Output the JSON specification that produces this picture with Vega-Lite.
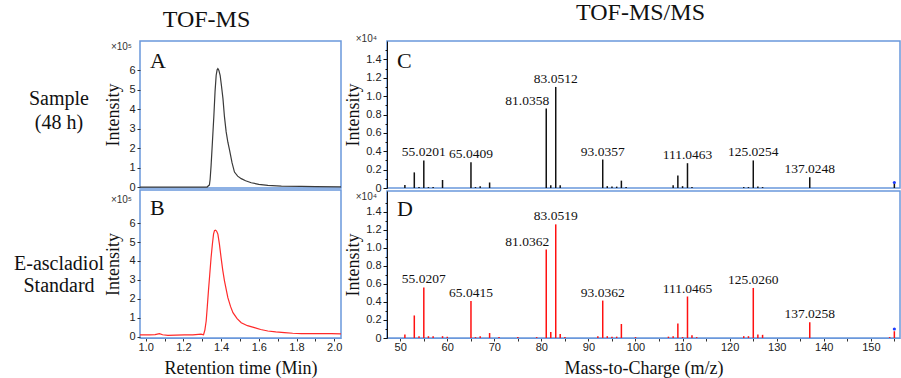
{
  "$schema": "https://vega.github.io/schema/vega-lite/v6.json",
  "padding": {"left": 13, "top": 0, "right": 0, "bottom": 0},
  "background": "white",
  "config": {
    "view": {"stroke": "#6a98dc", "strokeWidth": 1.5},
    "axis": {"labelFont": "Liberation Sans", "labelFontSize": 11, "labelColor": "#222", "titleFont": "Liberation Serif", "titleFontSize": 18, "titleFontWeight": "normal", "titleColor": "#111", "grid": false, "tickColor": "#333", "tickSize": 3, "labelPadding": 2, "domainColor": "#6a98dc", "labelOverlap": false},
    "title": {"font": "Liberation Serif", "fontSize": 24, "fontWeight": "normal", "color": "#111"},
    "text": {"font": "Liberation Serif", "color": "#111"}
  },
  "datasets": {
    "chromA": [{"t":0.97,"i":0.0},{"t":1.1,"i":0.0},{"t":1.2,"i":0.0},{"t":1.3,"i":0.0},{"t":1.326,"i":0.0},{"t":1.334,"i":0.08},{"t":1.338,"i":0.1},{"t":1.342,"i":0.4},{"t":1.347,"i":1.1},{"t":1.354,"i":2.3},{"t":1.362,"i":3.7},{"t":1.368,"i":4.9},{"t":1.374,"i":5.74},{"t":1.379,"i":6.02},{"t":1.383,"i":6.08},{"t":1.388,"i":6.0},{"t":1.395,"i":5.74},{"t":1.402,"i":5.2},{"t":1.41,"i":4.54},{"t":1.418,"i":3.6},{"t":1.427,"i":2.83},{"t":1.436,"i":2.3},{"t":1.445,"i":1.89},{"t":1.458,"i":1.25},{"t":1.471,"i":0.77},{"t":1.488,"i":0.56},{"t":1.507,"i":0.43},{"t":1.53,"i":0.32},{"t":1.56,"i":0.22},{"t":1.6,"i":0.14},{"t":1.648,"i":0.08},{"t":1.72,"i":0.05},{"t":1.825,"i":0.03},{"t":1.9,"i":0.02},{"t":2.036,"i":0.01}],
    "chromB": [{"t":0.97,"i":0.09},{"t":1.02,"i":0.09},{"t":1.05,"i":0.11},{"t":1.073,"i":0.16},{"t":1.09,"i":0.1},{"t":1.118,"i":0.07},{"t":1.16,"i":0.08},{"t":1.206,"i":0.09},{"t":1.25,"i":0.1},{"t":1.294,"i":0.13},{"t":1.307,"i":0.1},{"t":1.314,"i":0.35},{"t":1.321,"i":0.83},{"t":1.327,"i":1.6},{"t":1.333,"i":2.42},{"t":1.34,"i":3.3},{"t":1.347,"i":4.18},{"t":1.354,"i":4.9},{"t":1.36,"i":5.42},{"t":1.365,"i":5.6},{"t":1.37,"i":5.63},{"t":1.376,"i":5.58},{"t":1.383,"i":5.42},{"t":1.391,"i":4.9},{"t":1.4,"i":4.18},{"t":1.409,"i":3.5},{"t":1.418,"i":2.95},{"t":1.436,"i":2.06},{"t":1.45,"i":1.6},{"t":1.463,"i":1.27},{"t":1.485,"i":0.95},{"t":1.507,"i":0.74},{"t":1.54,"i":0.58},{"t":1.577,"i":0.48},{"t":1.61,"i":0.38},{"t":1.648,"i":0.3},{"t":1.69,"i":0.25},{"t":1.736,"i":0.21},{"t":1.78,"i":0.18},{"t":1.825,"i":0.16},{"t":1.9,"i":0.16},{"t":1.984,"i":0.16},{"t":2.036,"i":0.15}],
    "specC": [{"mz":51.0,"i":0.033},{"mz":53.0,"i":0.17},{"mz":54.0,"i":0.01},{"mz":55.0201,"i":0.30,"label":"55.0201"},{"mz":56.0,"i":0.01},{"mz":57.0,"i":0.01},{"mz":59.0,"i":0.087},{"mz":65.0409,"i":0.28,"label":"65.0409"},{"mz":66.0,"i":0.01},{"mz":67.0,"i":0.02},{"mz":69.0,"i":0.06},{"mz":81.0358,"i":0.865,"label":"81.0358"},{"mz":82.0,"i":0.03},{"mz":83.0512,"i":1.10,"label":"83.0512"},{"mz":84.0,"i":0.03},{"mz":93.0357,"i":0.31,"label":"93.0357"},{"mz":94.0,"i":0.02},{"mz":95.0,"i":0.015},{"mz":96.0,"i":0.015},{"mz":97.0,"i":0.08},{"mz":98.0,"i":0.01},{"mz":108.0,"i":0.03},{"mz":109.0,"i":0.135},{"mz":110.0,"i":0.02},{"mz":111.0463,"i":0.27,"label":"111.0463"},{"mz":112.0,"i":0.01},{"mz":123.0,"i":0.01},{"mz":124.0,"i":0.01},{"mz":125.0254,"i":0.30,"label":"125.0254"},{"mz":126.0,"i":0.015},{"mz":127.0,"i":0.01},{"mz":137.0248,"i":0.116,"label":"137.0248"},{"mz":155.0,"i":0.05}],
    "specD": [{"mz":51.0,"i":0.04},{"mz":53.0,"i":0.25},{"mz":54.0,"i":0.02},{"mz":55.0207,"i":0.56,"label":"55.0207"},{"mz":56.0,"i":0.02},{"mz":57.0,"i":0.02},{"mz":59.0,"i":0.02},{"mz":60.0,"i":0.015},{"mz":65.0415,"i":0.41,"label":"65.0415"},{"mz":66.0,"i":0.01},{"mz":67.0,"i":0.02},{"mz":69.0,"i":0.055},{"mz":71.0,"i":0.01},{"mz":75.0,"i":0.01},{"mz":79.0,"i":0.01},{"mz":81.0362,"i":0.98,"label":"81.0362"},{"mz":82.0,"i":0.067},{"mz":83.0519,"i":1.26,"label":"83.0519"},{"mz":84.0,"i":0.045},{"mz":85.0,"i":0.01},{"mz":92.0,"i":0.02},{"mz":93.0362,"i":0.415,"label":"93.0362"},{"mz":94.0,"i":0.02},{"mz":95.0,"i":0.015},{"mz":96.0,"i":0.015},{"mz":97.0,"i":0.155},{"mz":100.0,"i":0.01},{"mz":107.0,"i":0.015},{"mz":108.0,"i":0.02},{"mz":109.0,"i":0.16},{"mz":110.0,"i":0.01},{"mz":111.0465,"i":0.46,"label":"111.0465"},{"mz":112.0,"i":0.03},{"mz":113.0,"i":0.01},{"mz":123.0,"i":0.02},{"mz":124.0,"i":0.02},{"mz":125.026,"i":0.555,"label":"125.0260"},{"mz":126.0,"i":0.04},{"mz":127.0,"i":0.035},{"mz":137.0258,"i":0.175,"label":"137.0258"},{"mz":154.0,"i":0.01},{"mz":155.0,"i":0.075}],
    "precC": [{"mz":155.0,"i":0.06}],
    "precD": [{"mz":155.0,"i":0.1}]
  },
  "spacing": 0,
  "hconcat": [
    {
      "spacing": 2,
      "bounds": "flush",
      "vconcat": [
        {
          "width": 201, "height": 147,
          "title": {"text": "TOF-MS", "frame": "group", "dx": -34, "offset": 9},
          "layer": [
            {"data": {"name": "chromA"}, "mark": {"type": "line", "color": "#3a3a3a", "strokeWidth": 1.2, "clip": true},
             "encoding": {
               "x": {"field": "t", "type": "quantitative", "scale": {"domain": [0.97, 2.036], "nice": false, "zero": false}, "axis": null},
               "y": {"field": "i", "type": "quantitative", "scale": {"domain": [-0.05, 7.5], "nice": false, "zero": false}, "axis": {"title": "Intensity", "values": [0,1,2,3,4,5,6], "domain": false, "titlePadding": 6, "labelOverlap": false}}}},
            {"data": {"values": [{"t": "A"}]}, "mark": {"type": "text", "font": "Liberation Serif", "fontSize": 22, "align": "left", "baseline": "top", "dx": 10, "dy": 10},
             "encoding": {"x": {"datum": 0.97, "axis": null}, "y": {"datum": 7.5, "axis": {"title": "Intensity", "values": [0,1,2,3,4,5,6], "domain": false, "titlePadding": 6, "labelOverlap": false}}, "text": {"field": "t"}}},
            {"data": {"values": [{"t": "×10⁵"}]}, "mark": {"type": "text", "font": "Liberation Sans", "fontSize": 10, "color": "#333", "align": "right", "baseline": "middle", "dx": -8, "dy": 6},
             "encoding": {"x": {"datum": 0.97, "axis": null}, "y": {"datum": 7.5, "axis": {"title": "Intensity", "values": [0,1,2,3,4,5,6], "domain": false, "titlePadding": 6, "labelOverlap": false}}, "text": {"field": "t"}}},
            {"data": {"values": [{"t": "Sample\n(48 h)"}]}, "mark": {"type": "text", "font": "Liberation Serif", "fontSize": 20, "lineBreak": "\n", "lineHeight": 24, "align": "center", "baseline": "middle", "dx": -81, "dy": -16},
             "encoding": {"x": {"datum": 0.97, "axis": null}, "y": {"datum": 3.725, "axis": {"title": "Intensity", "values": [0,1,2,3,4,5,6], "domain": false, "titlePadding": 6, "labelOverlap": false}}, "text": {"field": "t"}}}
          ]
        },
        {
          "width": 201, "height": 148,
          "layer": [
            {"data": {"name": "chromB"}, "mark": {"type": "line", "color": "#ff2a2a", "strokeWidth": 1.2, "clip": true},
             "encoding": {
               "x": {"field": "t", "type": "quantitative", "scale": {"domain": [0.97, 2.036], "nice": false, "zero": false}, "axis": {"title": "Retention time (Min)", "values": [1.0,1.1,1.2,1.3,1.4,1.5,1.6,1.7,1.8,1.9,2.0], "labelExpr": "round(datum.value*10) % 2 === 0 ? format(datum.value, '.1f') : ''", "titlePadding": 7, "labelPadding": 0, "labelOverlap": false}},
               "y": {"field": "i", "type": "quantitative", "scale": {"domain": [-0.07, 7.75], "nice": false, "zero": false}, "axis": {"title": "Intensity", "values": [0,1,2,3,4,5,6], "domain": false, "titlePadding": 6, "labelOverlap": false}}}},
            {"data": {"values": [{"t": "B"}]}, "mark": {"type": "text", "font": "Liberation Serif", "fontSize": 22, "align": "left", "baseline": "top", "dx": 10, "dy": 8},
             "encoding": {"x": {"datum": 0.97, "axis": {"title": "Retention time (Min)", "values": [1.0,1.1,1.2,1.3,1.4,1.5,1.6,1.7,1.8,1.9,2.0], "labelExpr": "round(datum.value*10) % 2 === 0 ? format(datum.value, '.1f') : ''", "titlePadding": 7, "labelPadding": 0, "labelOverlap": false}}, "y": {"datum": 7.75, "axis": {"title": "Intensity", "values": [0,1,2,3,4,5,6], "domain": false, "titlePadding": 6, "labelOverlap": false}}, "text": {"field": "t"}}},
            {"data": {"values": [{"t": "×10⁵"}]}, "mark": {"type": "text", "font": "Liberation Sans", "fontSize": 10, "color": "#333", "align": "right", "baseline": "middle", "dx": -8, "dy": 10},
             "encoding": {"x": {"datum": 0.97, "axis": {"title": "Retention time (Min)", "values": [1.0,1.1,1.2,1.3,1.4,1.5,1.6,1.7,1.8,1.9,2.0], "labelExpr": "round(datum.value*10) % 2 === 0 ? format(datum.value, '.1f') : ''", "titlePadding": 7, "labelPadding": 0, "labelOverlap": false}}, "y": {"datum": 7.75, "axis": {"title": "Intensity", "values": [0,1,2,3,4,5,6], "domain": false, "titlePadding": 6, "labelOverlap": false}}, "text": {"field": "t"}}},
            {"data": {"values": [{"t": "E-ascladiol\nStandard"}]}, "mark": {"type": "text", "font": "Liberation Serif", "fontSize": 20, "lineBreak": "\n", "lineHeight": 22, "align": "center", "baseline": "middle", "dx": -81, "dy": 0},
             "encoding": {"x": {"datum": 0.97, "axis": {"title": "Retention time (Min)", "values": [1.0,1.1,1.2,1.3,1.4,1.5,1.6,1.7,1.8,1.9,2.0], "labelExpr": "round(datum.value*10) % 2 === 0 ? format(datum.value, '.1f') : ''", "titlePadding": 7, "labelPadding": 0, "labelOverlap": false}}, "y": {"datum": 3.84, "axis": {"title": "Intensity", "values": [0,1,2,3,4,5,6], "domain": false, "titlePadding": 6, "labelOverlap": false}}, "text": {"field": "t"}}}
          ]
        }
      ]
    },
    {
      "spacing": 3,
      "bounds": "flush",
      "vconcat": [
        {
          "width": 513, "height": 147,
          "title": {"text": "TOF-MS/MS", "frame": "group", "dx": -3, "offset": 9},
          "layer": [
            {"data": {"name": "specC"}, "mark": {"type": "rule", "color": "#111", "strokeWidth": 1.5},
             "encoding": {
               "x": {"field": "mz", "type": "quantitative", "scale": {"domain": [47.2, 156.2], "nice": false, "zero": false}, "axis": null},
               "y": {"field": "i", "type": "quantitative", "scale": {"domain": [0, 1.6], "nice": false, "zero": false}, "axis": {"title": "Intensity", "values": [0,0.1,0.2,0.3,0.4,0.5,0.6,0.7,0.8,0.9,1.0,1.1,1.2,1.3,1.4,1.5], "labelExpr": "round(datum.value*10) % 2 === 0 ? (datum.value === 0 ? '0' : format(datum.value, '.1f')) : ''", "labelOverlap": false, "domainColor": "#111", "tickColor": "#111", "tickSize": {"condition": {"test": "round(datum.value*10) % 2 !== 0", "value": 2}, "value": 4}, "titlePadding": 3}},
               "y2": {"datum": 0}}},
            {"data": {"name": "specC"}, "transform": [{"filter": "datum.label && datum.label !== '81.0358'"}], "mark": {"type": "text", "font": "Liberation Serif", "fontSize": 13.5, "align": "center", "baseline": "alphabetic", "dy": -4},
             "encoding": {"x": {"field": "mz", "type": "quantitative", "axis": null}, "y": {"field": "i", "type": "quantitative", "axis": {"title": "Intensity", "values": [0,0.1,0.2,0.3,0.4,0.5,0.6,0.7,0.8,0.9,1.0,1.1,1.2,1.3,1.4,1.5], "labelExpr": "round(datum.value*10) % 2 === 0 ? (datum.value === 0 ? '0' : format(datum.value, '.1f')) : ''", "labelOverlap": false, "domainColor": "#111", "tickColor": "#111", "tickSize": {"condition": {"test": "round(datum.value*10) % 2 !== 0", "value": 2}, "value": 4}, "titlePadding": 3}}, "text": {"field": "label"}}},
            {"data": {"name": "specC"}, "transform": [{"filter": "datum.label === '81.0358'"}], "mark": {"type": "text", "font": "Liberation Serif", "fontSize": 13.5, "align": "right", "baseline": "alphabetic", "dx": 3, "dy": -4},
             "encoding": {"x": {"field": "mz", "type": "quantitative", "axis": null}, "y": {"field": "i", "type": "quantitative", "axis": {"title": "Intensity", "values": [0,0.1,0.2,0.3,0.4,0.5,0.6,0.7,0.8,0.9,1.0,1.1,1.2,1.3,1.4,1.5], "labelExpr": "round(datum.value*10) % 2 === 0 ? (datum.value === 0 ? '0' : format(datum.value, '.1f')) : ''", "labelOverlap": false, "domainColor": "#111", "tickColor": "#111", "tickSize": {"condition": {"test": "round(datum.value*10) % 2 !== 0", "value": 2}, "value": 4}, "titlePadding": 3}}, "text": {"field": "label"}}},
            {"data": {"name": "precC"}, "mark": {"type": "point", "filled": true, "color": "#1f3cff", "size": 10, "opacity": 1},
             "encoding": {"x": {"field": "mz", "type": "quantitative", "axis": null}, "y": {"field": "i", "type": "quantitative", "axis": {"title": "Intensity", "values": [0,0.1,0.2,0.3,0.4,0.5,0.6,0.7,0.8,0.9,1.0,1.1,1.2,1.3,1.4,1.5], "labelExpr": "round(datum.value*10) % 2 === 0 ? (datum.value === 0 ? '0' : format(datum.value, '.1f')) : ''", "labelOverlap": false, "domainColor": "#111", "tickColor": "#111", "tickSize": {"condition": {"test": "round(datum.value*10) % 2 !== 0", "value": 2}, "value": 4}, "titlePadding": 3}}}},
            {"data": {"values": [{"t": "C"}]}, "mark": {"type": "text", "font": "Liberation Serif", "fontSize": 22, "align": "left", "baseline": "top", "dx": 10, "dy": 10},
             "encoding": {"x": {"datum": 47.2, "axis": null}, "y": {"datum": 1.6, "axis": {"title": "Intensity", "values": [0,0.1,0.2,0.3,0.4,0.5,0.6,0.7,0.8,0.9,1.0,1.1,1.2,1.3,1.4,1.5], "labelExpr": "round(datum.value*10) % 2 === 0 ? (datum.value === 0 ? '0' : format(datum.value, '.1f')) : ''", "labelOverlap": false, "domainColor": "#111", "tickColor": "#111", "tickSize": {"condition": {"test": "round(datum.value*10) % 2 !== 0", "value": 2}, "value": 4}, "titlePadding": 3}}, "text": {"field": "t"}}},
            {"data": {"values": [{"t": "×10⁴"}]}, "mark": {"type": "text", "font": "Liberation Sans", "fontSize": 10, "color": "#333", "align": "right", "baseline": "middle", "dx": -10, "dy": -2},
             "encoding": {"x": {"datum": 47.2, "axis": null}, "y": {"datum": 1.6, "axis": {"title": "Intensity", "values": [0,0.1,0.2,0.3,0.4,0.5,0.6,0.7,0.8,0.9,1.0,1.1,1.2,1.3,1.4,1.5], "labelExpr": "round(datum.value*10) % 2 === 0 ? (datum.value === 0 ? '0' : format(datum.value, '.1f')) : ''", "labelOverlap": false, "domainColor": "#111", "tickColor": "#111", "tickSize": {"condition": {"test": "round(datum.value*10) % 2 !== 0", "value": 2}, "value": 4}, "titlePadding": 3}}, "text": {"field": "t"}}}
          ]
        },
        {
          "width": 513, "height": 147,
          "layer": [
            {"data": {"name": "specD"}, "mark": {"type": "rule", "color": "#ff1010", "strokeWidth": 1.5},
             "encoding": {
               "x": {"field": "mz", "type": "quantitative", "scale": {"domain": [47.2, 156.2], "nice": false, "zero": false}, "axis": {"title": "Mass-to-Charge (m/z)", "values": [50,55,60,65,70,75,80,85,90,95,100,105,110,115,120,125,130,135,140,145,150,155], "labelExpr": "datum.value % 10 === 0 ? datum.label : ''", "titlePadding": 7, "labelPadding": 0, "labelOverlap": false}},
               "y": {"field": "i", "type": "quantitative", "scale": {"domain": [0, 1.63], "nice": false, "zero": false}, "axis": {"title": "Intensity", "values": [0,0.1,0.2,0.3,0.4,0.5,0.6,0.7,0.8,0.9,1.0,1.1,1.2,1.3,1.4,1.5], "labelExpr": "round(datum.value*10) % 2 === 0 ? (datum.value === 0 ? '0' : format(datum.value, '.1f')) : ''", "labelOverlap": false, "domainColor": "#111", "tickColor": "#111", "tickSize": {"condition": {"test": "round(datum.value*10) % 2 !== 0", "value": 2}, "value": 4}, "titlePadding": 3}},
               "y2": {"datum": 0}}},
            {"data": {"name": "specD"}, "transform": [{"filter": "datum.label && datum.label !== '81.0362'"}], "mark": {"type": "text", "font": "Liberation Serif", "fontSize": 13.5, "align": "center", "baseline": "alphabetic", "dy": -4},
             "encoding": {"x": {"field": "mz", "type": "quantitative", "axis": {"title": "Mass-to-Charge (m/z)", "values": [50,55,60,65,70,75,80,85,90,95,100,105,110,115,120,125,130,135,140,145,150,155], "labelExpr": "datum.value % 10 === 0 ? datum.label : ''", "titlePadding": 7, "labelPadding": 0, "labelOverlap": false}}, "y": {"field": "i", "type": "quantitative", "axis": {"title": "Intensity", "values": [0,0.1,0.2,0.3,0.4,0.5,0.6,0.7,0.8,0.9,1.0,1.1,1.2,1.3,1.4,1.5], "labelExpr": "round(datum.value*10) % 2 === 0 ? (datum.value === 0 ? '0' : format(datum.value, '.1f')) : ''", "labelOverlap": false, "domainColor": "#111", "tickColor": "#111", "tickSize": {"condition": {"test": "round(datum.value*10) % 2 !== 0", "value": 2}, "value": 4}, "titlePadding": 3}}, "text": {"field": "label"}}},
            {"data": {"name": "specD"}, "transform": [{"filter": "datum.label === '81.0362'"}], "mark": {"type": "text", "font": "Liberation Serif", "fontSize": 13.5, "align": "right", "baseline": "alphabetic", "dx": 3, "dy": -4},
             "encoding": {"x": {"field": "mz", "type": "quantitative", "axis": {"title": "Mass-to-Charge (m/z)", "values": [50,55,60,65,70,75,80,85,90,95,100,105,110,115,120,125,130,135,140,145,150,155], "labelExpr": "datum.value % 10 === 0 ? datum.label : ''", "titlePadding": 7, "labelPadding": 0, "labelOverlap": false}}, "y": {"field": "i", "type": "quantitative", "axis": {"title": "Intensity", "values": [0,0.1,0.2,0.3,0.4,0.5,0.6,0.7,0.8,0.9,1.0,1.1,1.2,1.3,1.4,1.5], "labelExpr": "round(datum.value*10) % 2 === 0 ? (datum.value === 0 ? '0' : format(datum.value, '.1f')) : ''", "labelOverlap": false, "domainColor": "#111", "tickColor": "#111", "tickSize": {"condition": {"test": "round(datum.value*10) % 2 !== 0", "value": 2}, "value": 4}, "titlePadding": 3}}, "text": {"field": "label"}}},
            {"data": {"name": "precD"}, "mark": {"type": "point", "filled": true, "color": "#1f3cff", "size": 10, "opacity": 1},
             "encoding": {"x": {"field": "mz", "type": "quantitative", "axis": {"title": "Mass-to-Charge (m/z)", "values": [50,55,60,65,70,75,80,85,90,95,100,105,110,115,120,125,130,135,140,145,150,155], "labelExpr": "datum.value % 10 === 0 ? datum.label : ''", "titlePadding": 7, "labelPadding": 0, "labelOverlap": false}}, "y": {"field": "i", "type": "quantitative", "axis": {"title": "Intensity", "values": [0,0.1,0.2,0.3,0.4,0.5,0.6,0.7,0.8,0.9,1.0,1.1,1.2,1.3,1.4,1.5], "labelExpr": "round(datum.value*10) % 2 === 0 ? (datum.value === 0 ? '0' : format(datum.value, '.1f')) : ''", "labelOverlap": false, "domainColor": "#111", "tickColor": "#111", "tickSize": {"condition": {"test": "round(datum.value*10) % 2 !== 0", "value": 2}, "value": 4}, "titlePadding": 3}}}},
            {"data": {"values": [{"t": "D"}]}, "mark": {"type": "text", "font": "Liberation Serif", "fontSize": 22, "align": "left", "baseline": "top", "dx": 10, "dy": 8},
             "encoding": {"x": {"datum": 47.2, "axis": {"title": "Mass-to-Charge (m/z)", "values": [50,55,60,65,70,75,80,85,90,95,100,105,110,115,120,125,130,135,140,145,150,155], "labelExpr": "datum.value % 10 === 0 ? datum.label : ''", "titlePadding": 7, "labelPadding": 0, "labelOverlap": false}}, "y": {"datum": 1.63, "axis": {"title": "Intensity", "values": [0,0.1,0.2,0.3,0.4,0.5,0.6,0.7,0.8,0.9,1.0,1.1,1.2,1.3,1.4,1.5], "labelExpr": "round(datum.value*10) % 2 === 0 ? (datum.value === 0 ? '0' : format(datum.value, '.1f')) : ''", "labelOverlap": false, "domainColor": "#111", "tickColor": "#111", "tickSize": {"condition": {"test": "round(datum.value*10) % 2 !== 0", "value": 2}, "value": 4}, "titlePadding": 3}}, "text": {"field": "t"}}},
            {"data": {"values": [{"t": "×10⁴"}]}, "mark": {"type": "text", "font": "Liberation Sans", "fontSize": 10, "color": "#333", "align": "right", "baseline": "middle", "dx": -10, "dy": 6},
             "encoding": {"x": {"datum": 47.2, "axis": {"title": "Mass-to-Charge (m/z)", "values": [50,55,60,65,70,75,80,85,90,95,100,105,110,115,120,125,130,135,140,145,150,155], "labelExpr": "datum.value % 10 === 0 ? datum.label : ''", "titlePadding": 7, "labelPadding": 0, "labelOverlap": false}}, "y": {"datum": 1.63, "axis": {"title": "Intensity", "values": [0,0.1,0.2,0.3,0.4,0.5,0.6,0.7,0.8,0.9,1.0,1.1,1.2,1.3,1.4,1.5], "labelExpr": "round(datum.value*10) % 2 === 0 ? (datum.value === 0 ? '0' : format(datum.value, '.1f')) : ''", "labelOverlap": false, "domainColor": "#111", "tickColor": "#111", "tickSize": {"condition": {"test": "round(datum.value*10) % 2 !== 0", "value": 2}, "value": 4}, "titlePadding": 3}}, "text": {"field": "t"}}}
          ]
        }
      ]
    }
  ]
}
